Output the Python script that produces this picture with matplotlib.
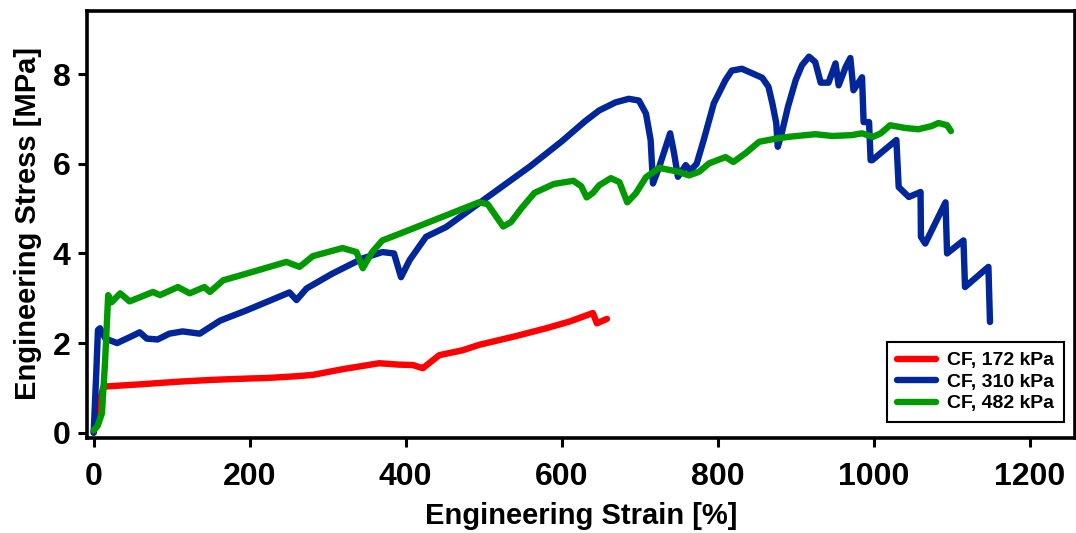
import matplotlib
matplotlib.use("Agg")
import matplotlib.pyplot as plt

# ---- data ----
red_x = [0, 5, 12, 14.6, 60, 110, 153, 200, 222, 260, 281, 320, 366, 390, 409, 418, 422, 443, 473, 494, 540, 580, 610, 640, 645, 658]
red_y = [0, 0.5, 1.0, 1.03, 1.08, 1.14, 1.18, 1.21, 1.22, 1.26, 1.29, 1.42, 1.55, 1.52, 1.51, 1.46, 1.44, 1.73, 1.84, 1.96, 2.15, 2.33, 2.48, 2.67, 2.44, 2.54]

blue_x = [0, 3, 5.5, 8, 15, 30, 46, 59, 68, 82, 97, 114, 136, 162, 196, 251, 260, 273, 306, 345, 370, 385, 394, 405, 426, 452, 494,
          560, 600, 630, 648, 669, 686, 699, 708, 714, 717, 725, 739, 744, 749, 759, 765, 773, 782, 795, 810, 818, 831, 844,
          857, 865, 870, 875, 877, 882, 890, 900, 908, 917, 925, 932, 942, 951, 955, 964, 970, 974, 985, 987, 994, 996, 998,
          1029, 1032, 1045, 1060, 1060.5, 1066, 1092, 1094, 1115, 1117, 1147, 1149]
blue_y = [0, 1.2, 2.29, 2.33, 2.1, 2.0, 2.13, 2.24, 2.10, 2.08, 2.21, 2.26, 2.21, 2.5, 2.73, 3.13, 2.96, 3.22, 3.55, 3.89, 4.03, 4.0, 3.47, 3.85, 4.37, 4.59, 5.12,
          5.95, 6.5, 6.95, 7.19, 7.37, 7.45, 7.41, 7.12, 6.53, 5.56, 5.93, 6.68, 6.24, 5.71, 5.97, 5.85, 6.0, 6.53, 7.35, 7.87, 8.08, 8.12, 8.02,
          7.92, 7.72, 7.35, 6.91, 6.38, 6.68, 7.27, 7.87, 8.20, 8.39, 8.27, 7.81, 7.81, 8.24, 7.75, 8.16, 8.36, 7.64, 7.93, 6.93, 6.93, 6.08, 6.08,
          6.53, 5.48, 5.26, 5.37, 4.37, 4.22, 5.14, 4.0, 4.29, 3.25, 3.70, 2.47]

green_x = [0, 5, 10.6, 14.5, 18.6, 23, 34, 46, 59, 76, 85, 108, 123, 142, 149, 166, 196, 247, 264, 281, 319, 337, 345, 357, 370, 388, 494,
           505, 515, 525, 535, 548, 565, 590, 615, 625, 632, 640, 648, 663, 674, 684, 695, 708, 725, 750, 763, 776, 789, 810, 820, 836,
           853, 874, 890, 925, 947, 972, 985, 999, 1009, 1021, 1040, 1057, 1074, 1083, 1094, 1099]
green_y = [0.05, 0.15, 0.43, 1.55, 3.07, 2.91, 3.11, 2.93, 3.02, 3.14, 3.07, 3.25, 3.11, 3.25, 3.14, 3.4, 3.55, 3.81, 3.7, 3.94, 4.12, 4.03, 3.67, 4.03, 4.29, 4.41, 5.14,
           5.1, 4.85, 4.6, 4.7, 5.0, 5.35, 5.55, 5.62, 5.5, 5.25, 5.35, 5.52, 5.68, 5.59, 5.14, 5.34, 5.70, 5.91, 5.82, 5.74, 5.82, 6.01, 6.15, 6.04, 6.24,
           6.49, 6.56, 6.6, 6.66, 6.62, 6.64, 6.68, 6.6, 6.68, 6.86, 6.8, 6.77, 6.84, 6.91, 6.86, 6.73]

labels = ["CF, 172 kPa", "CF, 310 kPa", "CF, 482 kPa"]
colors = ["#ff0000", "#00269a", "#009a00"]
x_ticks = [0, 200, 400, 600, 800, 1000, 1200]
y_ticks = [0, 2, 4, 6, 8]

plt.rcParams['font.family'] = ['Liberation Sans', 'DejaVu Sans']
plt.rcParams['font.weight'] = 'bold'

fig = plt.figure(figsize=(10.76, 5.33), dpi=100)
ax = fig.add_axes([86.5 / 1076, 1 - 437.5 / 533, (1075 - 86.5) / 1076, (437.5 - 10.5) / 533])

for xs, ys, lab, c in zip([red_x, blue_x, green_x], [red_y, blue_y, green_y], labels, colors):
    ax.plot(xs, ys, color=c, lw=4.6, label=lab, solid_joinstyle='round', solid_capstyle='round')

ax.set_xlim(-9.2, 1258)
ax.set_ylim(-0.107, 9.42)
ax.set_xticks(x_ticks)
ax.set_yticks(y_ticks)
ax.tick_params(axis='both', direction='out', length=6.5, width=2.2, labelsize=23)
ax.tick_params(axis='x', pad=11)
ax.tick_params(axis='y', pad=5)
for lab in ax.get_xticklabels() + ax.get_yticklabels():
    lab.set_fontweight('bold')
for s in ax.spines.values():
    s.set_linewidth(2.6)

ax.set_xlabel("Engineering Strain [%]", fontsize=21, fontweight='bold', labelpad=7)
ax.set_ylabel("Engineering Stress [MPa]", fontsize=21, fontweight='bold', labelpad=8)

leg = ax.legend(loc='lower right', bbox_to_anchor=(0.989, 0.036), borderaxespad=0,
                fancybox=False, edgecolor='black', framealpha=1,
                prop={'size': 14, 'weight': 'bold'}, handlelength=2.0,
                labelspacing=0.2, borderpad=0.5, handletextpad=0.6)
leg.get_frame().set_linewidth(1.5)

fig.savefig("out.png", dpi=100)
